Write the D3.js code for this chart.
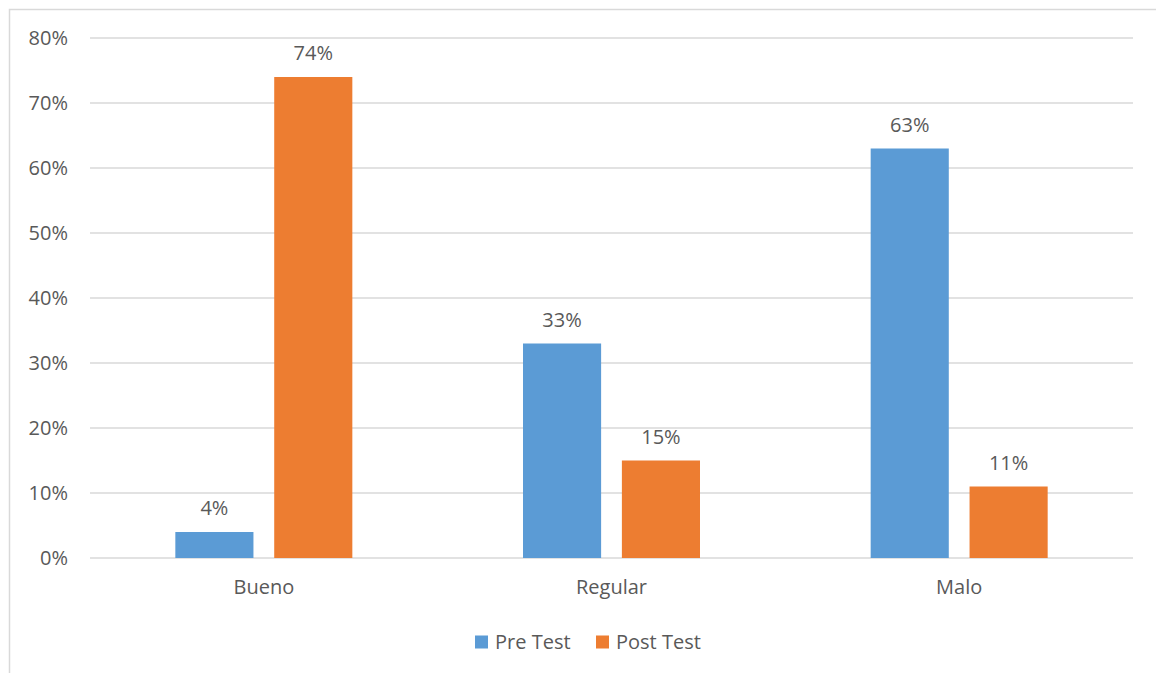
<!DOCTYPE html>
<html>
<head>
<meta charset="utf-8">
<script src="https://cdn.jsdelivr.net/npm/d3@7"></script>
<style>
  body { margin: 0; background: #fff; }
  text { font-family: "Open Sans", "Noto Sans", sans-serif; fill: #595959; }
</style>
</head>
<body>
<script>
// chart data
const categories = ["Bueno", "Regular", "Malo"];
const seriesNames = ["Pre Test", "Post Test"];
const preTest = [4, 33, 63];
const postTest = [74, 15, 11];
const yTicks = [0, 10, 20, 30, 40, 50, 60, 70, 80];

const colors = ["#5b9bd5", "#ed7d31"];
const W = 1156, H = 673;
const margin = { left: 90, right: 23, top: 38, bottom: 115 };
const width = W - margin.left - margin.right,
  height = H - margin.top - margin.bottom;
const fs = "20px";

const svg = d3.select("body").append("svg")
  .attr("width", W).attr("height", H);

// outer chart border
svg.append("rect")
  .attr("x", 9.5).attr("y", 9.5)
  .attr("width", W + 10).attr("height", H + 10)
  .attr("fill", "none").attr("stroke", "#d9d9d9").attr("stroke-width", 1.5);

const g = svg.append("g")
  .attr("transform", "translate(" + margin.left + "," + margin.top + ")");

const x0 = d3.scaleBand().domain(categories).range([0, width]);
const x1 = d3.scaleBand().domain(seriesNames)
  .range([0, 177]).paddingInner(0.21);
const y = d3.scaleLinear().domain([0, 80]).range([height, 0]);

// gridlines
g.selectAll(".grid").data(yTicks).enter().append("line")
  .attr("x1", 0).attr("x2", width)
  .attr("y1", d => y(d)).attr("y2", d => y(d))
  .attr("stroke", "#d9d9d9").attr("stroke-width", 1.5);

// y axis labels
const yAxis = d3.axisLeft(y).tickValues(yTicks).tickSize(0).tickPadding(22)
  .tickFormat(d => d + "%");
g.append("g").call(yAxis)
  .call(s => s.select(".domain").remove())
  .selectAll("text").style("font-size", fs).attr("fill", "#595959");

// x axis labels
const xAxis = d3.axisBottom(x0).tickSize(0).tickPadding(22);
g.append("g").attr("transform", "translate(0," + height + ")").call(xAxis)
  .call(s => s.select(".domain").remove())
  .selectAll("text").style("font-size", fs).attr("fill", "#595959");

// bars
const rows = categories.map((c, i) => ({ cat: c, vals: [preTest[i], postTest[i]] }));
const groups = g.selectAll(".cat").data(rows).enter().append("g")
  .attr("transform", d => "translate(" + (x0(d.cat) + x0.bandwidth() / 2 - 88.5) + ",0)");

groups.selectAll("rect").data(d => d.vals.map((v, j) => ({ s: seriesNames[j], v, j })))
  .enter().append("rect")
  .attr("x", d => x1(d.s))
  .attr("width", x1.bandwidth())
  .attr("y", d => y(d.v))
  .attr("height", d => y(0) - y(d.v))
  .attr("fill", d => colors[d.j]);

groups.selectAll(".lbl").data(d => d.vals.map((v, j) => ({ s: seriesNames[j], v, j })))
  .enter().append("text")
  .attr("x", d => x1(d.s) + x1.bandwidth() / 2)
  .attr("y", d => y(d.v) - 17)
  .attr("text-anchor", "middle")
  .style("font-size", fs)
  .text(d => d.v + "%");

// legend
const legend = svg.append("g").attr("transform", "translate(475,642)");
const legX = [0, 121];
seriesNames.forEach((n, i) => {
  legend.append("rect").attr("x", legX[i]).attr("y", -6.5)
    .attr("width", 13).attr("height", 13).attr("fill", colors[i]);
  legend.append("text").attr("x", legX[i] + 20).attr("y", 0).attr("dy", "0.35em")
    .style("font-size", fs).text(n);
});
</script>
</body>
</html>
